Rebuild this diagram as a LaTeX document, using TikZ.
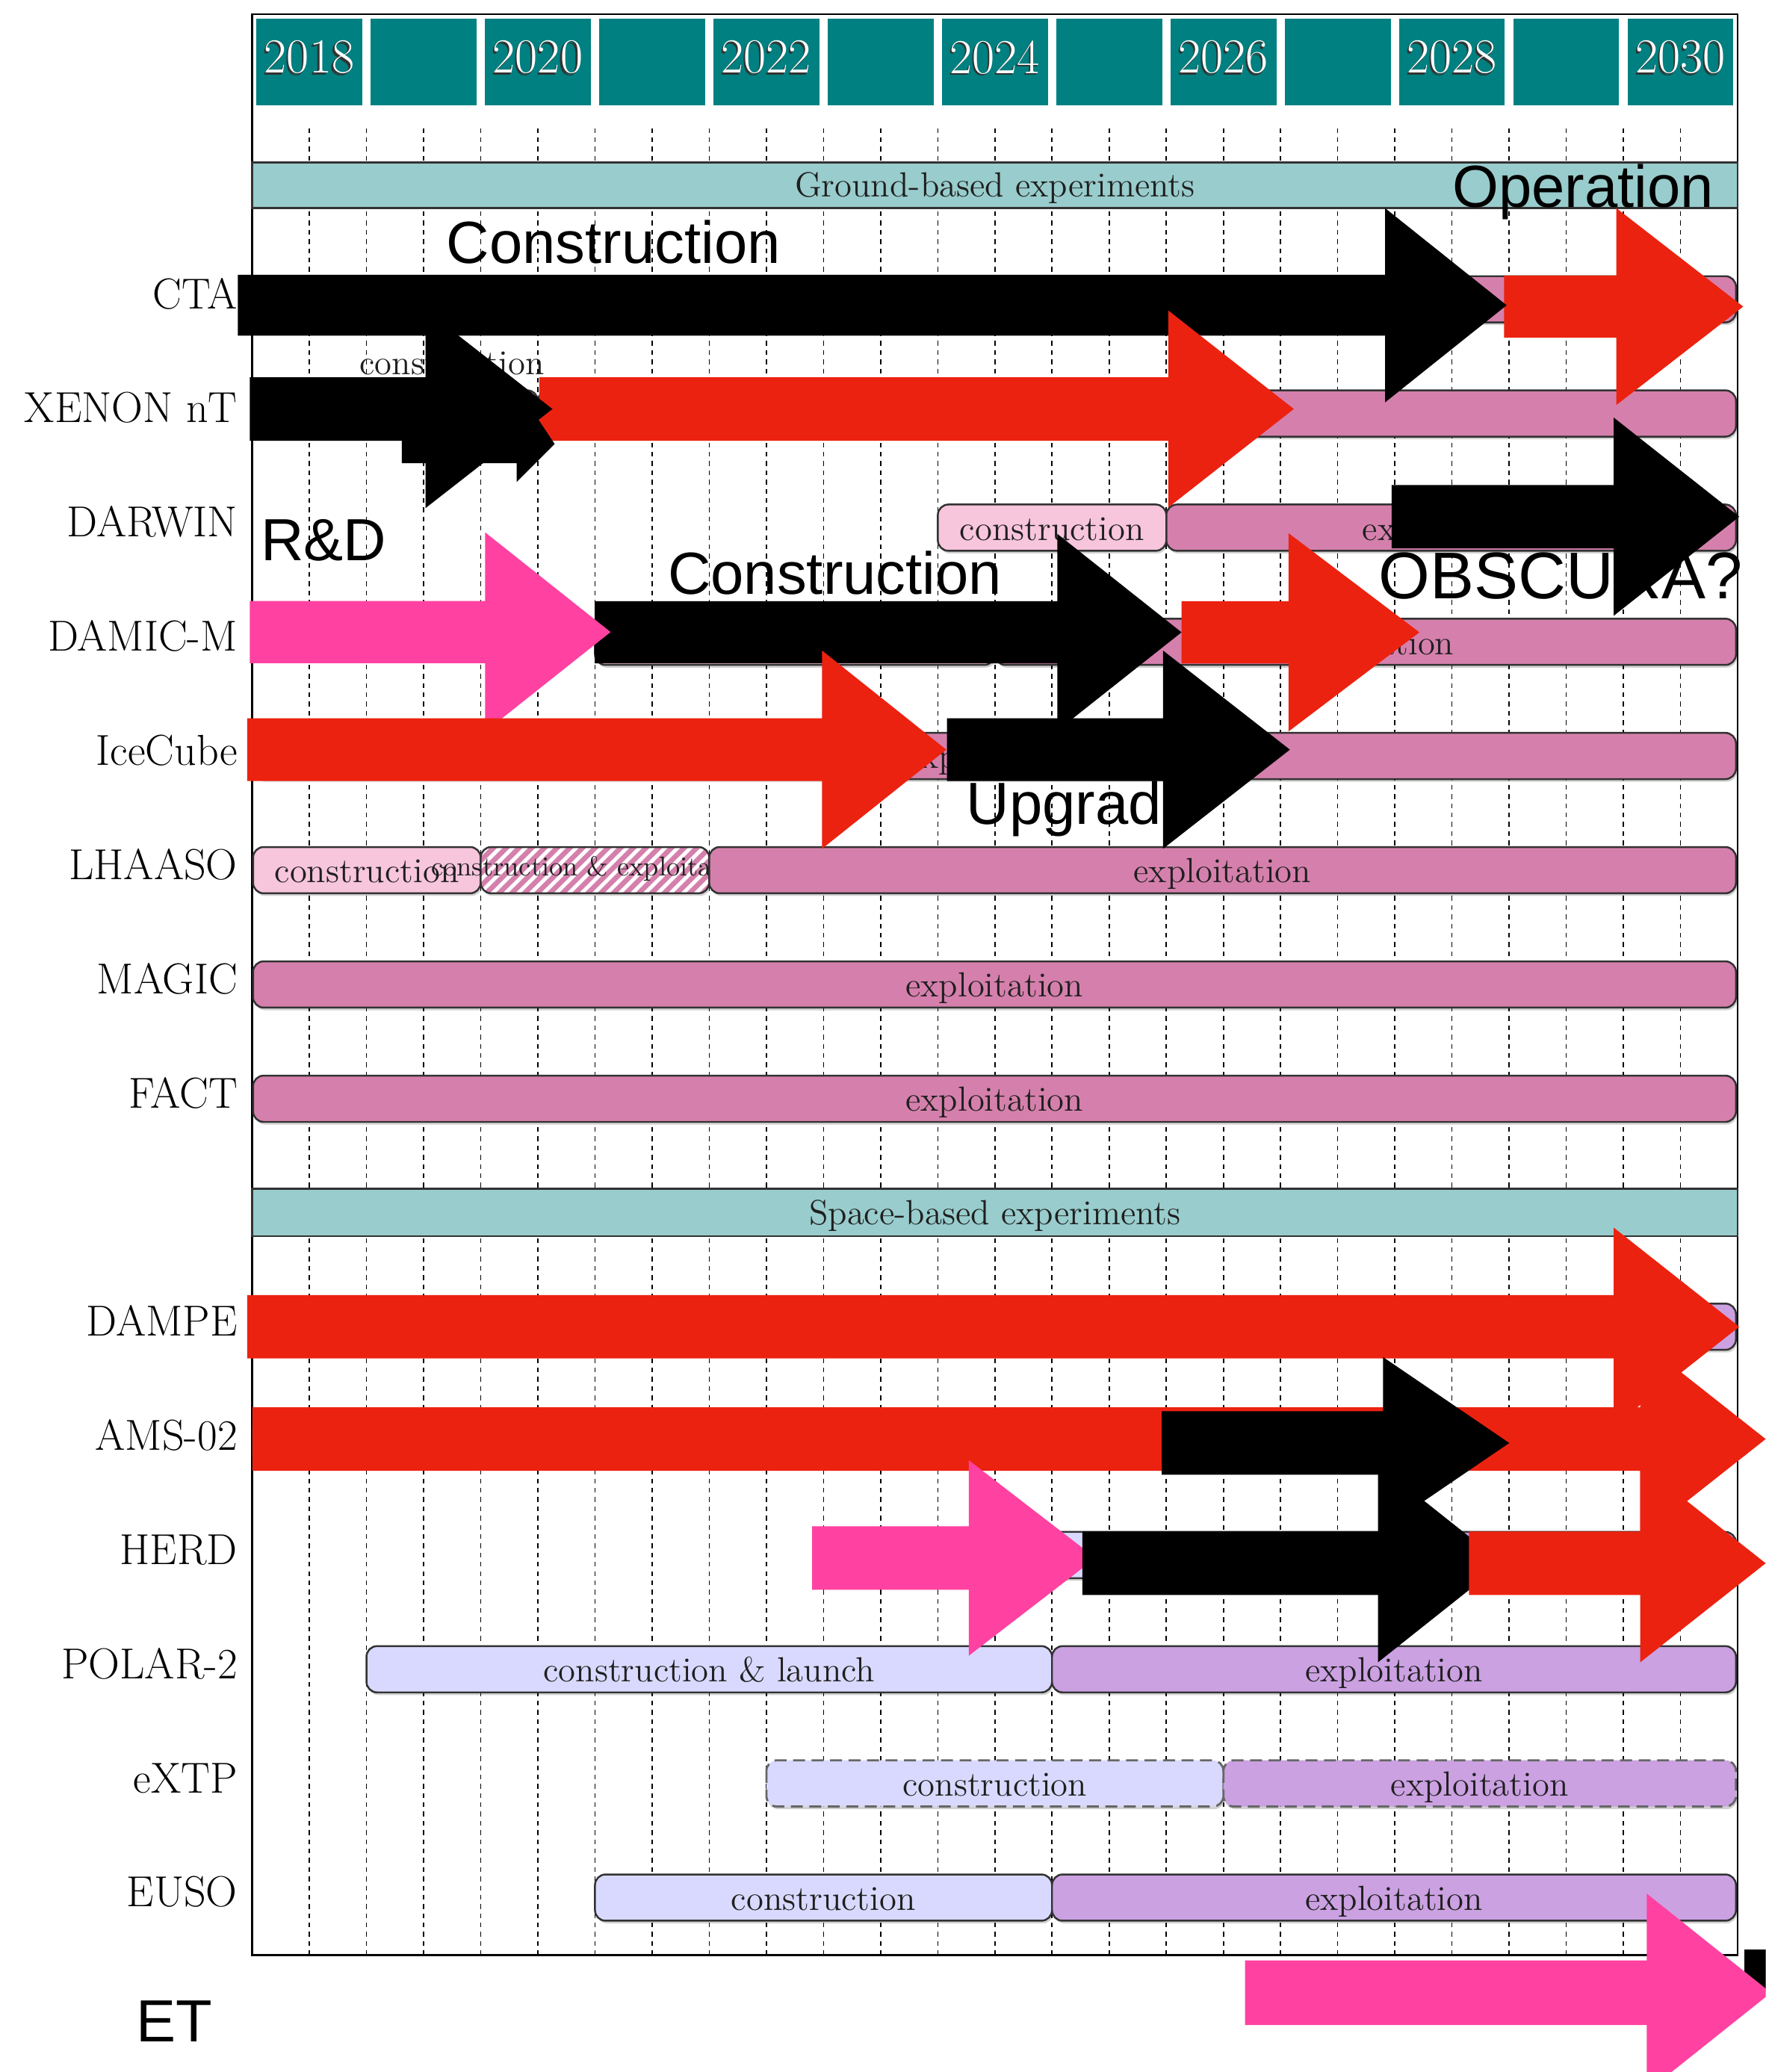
\documentclass[tikz,border=0pt]{standalone}
\usepackage{fontspec}
\newfontfamily\sansarial{Liberation Sans}
\usetikzlibrary{patterns.meta}
\definecolor{yearteal}{RGB}{0,128,128}
\definecolor{headteal}{RGB}{153,204,204}
\definecolor{gexp}{RGB}{213,128,172}
\definecolor{gcon}{RGB}{247,197,220}
\definecolor{sexp}{RGB}{203,161,226}
\definecolor{scon}{RGB}{217,217,255}
\definecolor{arrred}{RGB}{236,34,16}
\definecolor{arrpink}{RGB}{255,66,161}
\definecolor{bordergray}{RGB}{50,50,50}
\tikzset{
  bartext/.style={anchor=base, inner sep=0pt, text=black!88, font=\fontsize{13.2}{15}\selectfont},
  smallbartext/.style={anchor=base, inner sep=0pt, text=black!88, font=\fontsize{10.3}{12}\selectfont},
  rowlabel/.style={anchor=base east, inner sep=0pt, font=\fontsize{16.4}{19}\selectfont},
  ovtext/.style={anchor=base west, inner sep=0pt, font=\sansarial\fontsize{22.5}{26}\selectfont},
  yearlabel/.style={inner sep=0pt, text=white, font=\fontsize{18.5}{21}\selectfont},
  yearshadow/.style={inner sep=0pt, text=black!80, font=\fontsize{18.5}{21}\selectfont},
  gridline/.style={line width=0.45pt, dash pattern=on 1.8pt off 1.7pt},
  barbox/.style={draw=bordergray, line width=0.7pt, rounded corners=4pt},
  gexpbar/.style={barbox, fill=gexp},
  gconbar/.style={barbox, fill=gcon},
  sexpbar/.style={barbox, fill=sexp},
  sconbar/.style={barbox, fill=scon},
  hatchbar/.style={barbox, preaction={fill=gexp}, pattern={Lines[angle=45,distance=3.4pt,line width=1.4pt]}, pattern color=white},
  dashbar/.style={draw=black!60, line width=0.8pt, dash pattern=on 4.5pt off 2.5pt},
  header/.style={fill=headteal, draw=bordergray, line width=0.7pt}
}
% bar: style, x1, x2, yc
\newcommand{\tlbar}[4]{%
  \fill[black,opacity=0.18,rounded corners=4pt] (#2+1,#4-15.5) rectangle (#3+1,#4+19.5);
  \draw[#1] (#2,#4-17.5) rectangle (#3,#4+17.5);}
% arrow: colour, x start, x head base, x tip, y centre, shaft half, head half
\newcommand{\ovarrow}[7]{%
  \fill[#1] (#2,#5-#6) -- (#3,#5-#6) -- (#3,#5-#7) -- (#4,#5) -- (#3,#5+#7) -- (#3,#5+#6) -- (#2,#5+#6) -- cycle;}
\begin{document}
\begin{tikzpicture}[x=0.5pt,y=-0.5pt]
\useasboundingbox (0,0) rectangle (1336,1568);
\clip (0,0) rectangle (1336,1568);
\fill[white] (0,0) rectangle (1336,1568);
% grid
\foreach \k in {1,...,25} {\draw[gridline] ({190.8+43.23*\k},97) -- ({190.8+43.23*\k},1479);}
% year boxes
\foreach \i in {0,...,12} {\fill[yearteal] ({190.8+86.46*\i+3.2},14.1) rectangle ({190.8+86.46*(\i+1)-3.2},79.5);}
\foreach \i/\yr in {0/2018,2/2020,4/2022,6/2024,8/2026,10/2028,12/2030} {
  \node[yearshadow] at ({190.8+86.46*(\i+0.5)-1.4},44.6) {\yr};
  \node[yearshadow] at ({190.8+86.46*(\i+0.5)-0.7},44.0) {\yr};
  \node[yearlabel] (yr\yr) at ({190.8+86.46*(\i+0.5)},43.4) {\yr};}
% frame
\draw[line width=0.6pt] (190.8,10.5) rectangle (1314.8,1479.5);
% headers
\draw[header] (190.8,122.9) rectangle (1314.8,157.4);
\node[bartext] (ground) at (752.8,149) {Ground-based experiments};
\draw[header] (190.8,899.7) rectangle (1314.8,935.4);
\node[bartext] (space) at (752.8,926.5) {Space-based experiments};
% ground bars
\tlbar{gexpbar}{1055.4}{1313.5}{226.5}
\tlbar{gconbar}{277.3}{407}{312.9}
\tlbar{gexpbar}{407}{1313.5}{312.9}
\node[bartext] (xenoncon) at (342,283.6) {construction};
\tlbar{gconbar}{709.6}{882.5}{399.3}
\node[bartext] (darwincon) at (796,408.8) {construction};
\tlbar{gexpbar}{882.5}{1313.5}{399.3}
\node[bartext] (darwinexp) at (1098,408.8) {exploitation};
\tlbar{gconbar}{450.2}{752.8}{485.7}
\tlbar{gexpbar}{752.8}{1313.5}{485.7}
\node[bartext] (damicexp) at (1033,495.2) {exploitation};
\tlbar{gexpbar}{191.5}{1313.5}{572.1}
\node[bartext] (iceexp) at (752.5,581.6) {exploitation};
\tlbar{gconbar}{191.5}{363.7}{658.5}
\node[bartext] (lhcon) at (277.6,668) {construction};
\tlbar{hatchbar}{363.7}{536.6}{658.5}
\node[smallbartext] (lhce) at (450.2,663) {construction \& exploitation};
\tlbar{gexpbar}{536.6}{1313.5}{658.5}
\node[bartext] (lhexp) at (925,668) {exploitation};
\tlbar{gexpbar}{191.5}{1313.5}{745}
\node[bartext] (magexp) at (752.5,754.5) {exploitation};
\tlbar{gexpbar}{191.5}{1313.5}{831.5}
\node[bartext] (factexp) at (752.5,841) {exploitation};
% space bars
\tlbar{sexpbar}{191.5}{1313.5}{1004}
\tlbar{sexpbar}{191.5}{1313.5}{1090.4}
\tlbar{sconbar}{623.1}{1055.4}{1176.8}
\tlbar{sexpbar}{1055.4}{1313.5}{1176.8}
\tlbar{sconbar}{277.3}{796}{1263.2}
\node[bartext] (polcon) at (536.6,1272.7) {construction \& launch};
\tlbar{sexpbar}{796}{1313.5}{1263.2}
\node[bartext] (polexp) at (1054.8,1272.7) {exploitation};
\tlbar{sconbar,dashbar}{579.9}{925.7}{1349.6}
\node[bartext] (extpcon) at (752.8,1359.1) {construction};
\tlbar{sexpbar,dashbar}{925.7}{1313.5}{1349.6}
\node[bartext] (extpexp) at (1119.6,1359.1) {exploitation};
\tlbar{sconbar}{450.2}{796}{1436}
\node[bartext] (eusocon) at (623.1,1445.5) {construction};
\tlbar{sexpbar}{796}{1313.5}{1436}
\node[bartext] (eusoexp) at (1054.8,1445.5) {exploitation};
% row labels
\node[rowlabel] (lcta) at (180,233.5) {CTA};
\node[rowlabel] (lxenon) at (180,319.9) {XENON nT};
\node[rowlabel] (ldarwin) at (180,406.3) {DARWIN};
\node[rowlabel] (ldamic) at (180,492.7) {DAMIC-M};
\node[rowlabel] (lice) at (180,579.1) {IceCube};
\node[rowlabel] (llhaaso) at (180,665.5) {LHAASO};
\node[rowlabel] (lmagic) at (180,752) {MAGIC};
\node[rowlabel] (lfact) at (180,838.5) {FACT};
\node[rowlabel] (ldampe) at (180,1011) {DAMPE};
\node[rowlabel] (lams) at (180,1097.4) {AMS-02};
\node[rowlabel] (lherd) at (180,1183.8) {HERD};
\node[rowlabel] (lpolar) at (180,1270.2) {POLAR-2};
\node[rowlabel] (lextp) at (180,1356.6) {eXTP};
\node[rowlabel] (leuso) at (180,1443) {EUSO};
% overlay texts
\node[ovtext] (tcon1) at (337.5,199.4) {Construction};
\node[ovtext] (toper) at (1098.5,156.6) {Operation};
\node[ovtext] (trd) at (197,424) {R\&D};
\node[ovtext] (tcon2) at (505,449.5) {Construction};
\node[ovtext, font=\sansarial\fontsize{25}{29}\selectfont] (tobs) at (1043,453) {OBSCURA?};
\node[ovtext] (tupg) at (731,624) {Upgrad};
\node[ovtext] (tet) at (102.6,1545) {ET};
% overlay arrows
\ovarrow{arrred}{1138}{1223}{1319}{232}{23.5}{74.5}
\ovarrow{black}{180}{1048}{1140}{231}{23}{73.5}
\ovarrow{arrred}{408}{884}{979}{309.5}{24}{74.5}
\fill[black] (304,320) -- (391,320) -- (391,293) -- (419.7,336) -- (391,364.6) -- (391,350.5) -- (304,350.5) -- cycle;
\ovarrow{black}{189}{322}{418}{309.5}{24}{75}
\ovarrow{black}{1053}{1221}{1316}{391}{24}{75}
\ovarrow{black}{450}{800}{894}{478.5}{23.5}{74.5}
\ovarrow{arrred}{894}{975}{1074}{478.5}{23.5}{75}
\ovarrow{arrpink}{189}{367}{462}{478.3}{23.5}{75.5}
\ovarrow{arrred}{187}{622}{716}{567.3}{23.75}{75}
\ovarrow{black}{716.5}{880}{976}{567.3}{23.75}{75}
\ovarrow{arrred}{187}{1221}{1316}{1004}{24}{75}
\ovarrow{arrred}{191}{1241}{1336}{1089}{24}{75}
\ovarrow{black}{879}{1046.5}{1142}{1092}{24}{65}
\ovarrow{arrpink}{614.5}{733}{829}{1179}{24}{74}
\ovarrow{black}{819}{1042.6}{1137}{1183}{24}{75}
\ovarrow{arrred}{1111.5}{1241}{1336}{1183}{24}{75}
\fill[black] (1320,1475) rectangle (1345,1505);
\ovarrow{arrpink}{942}{1246}{1340}{1508}{24.5}{75}
\end{tikzpicture}
\end{document}
